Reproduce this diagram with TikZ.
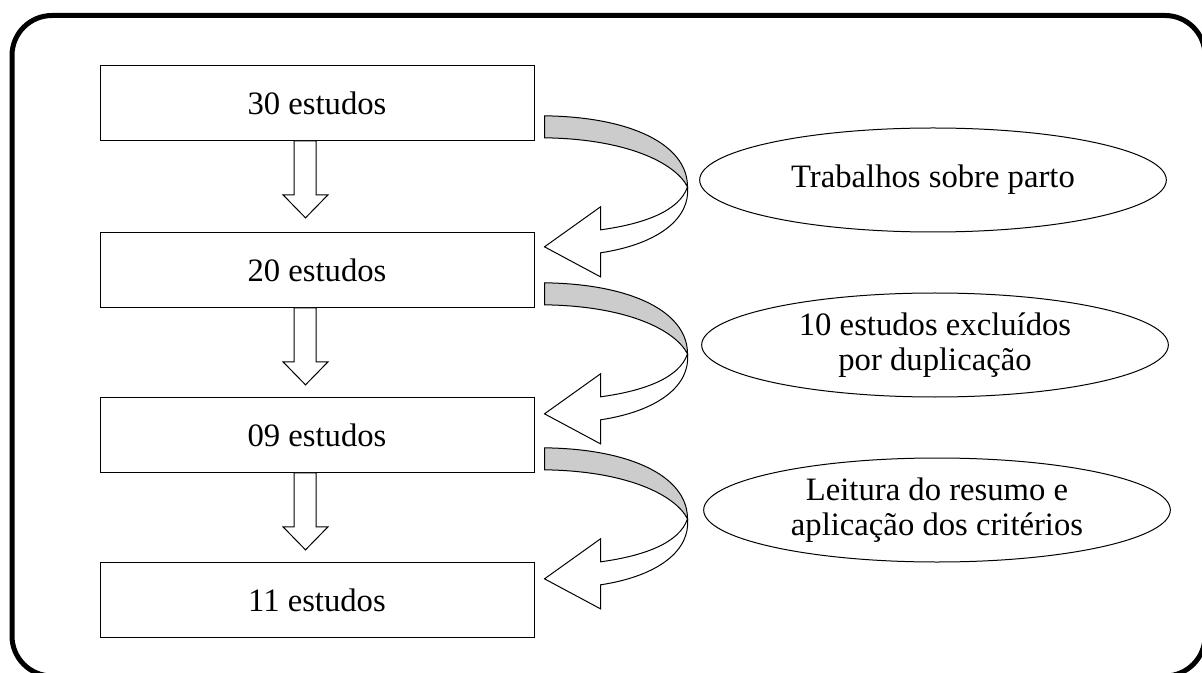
\documentclass[tikz,border=0pt]{standalone}
\usepackage{fontspec}
\setmainfont{Liberation Serif}
\usetikzlibrary{calc}
\usetikzlibrary{shapes.geometric}
\tikzset{every picture/.style={line width=0.75pt}}
\definecolor{bandgray}{RGB}{204,204,204}
\tikzset{
  stepbox/.style={draw, rectangle, minimum width=325.5pt, minimum height=56pt, inner sep=0.75pt},
  note/.style={draw, ellipse, minimum width=350pt, minimum height=78pt, inner sep=0.75pt, align=center},
}

\begin{document}
\begin{tikzpicture}[x=0.75pt,y=0.75pt,yscale=-1,xscale=1,font=\fontsize{24.5}{26}\selectfont]
\useasboundingbox (0,0) rectangle (1202,673);

%Shape: Rounded frame
\draw [line width=3.75pt, rounded corners=30pt] (12,15.5) rectangle (1205,676);

% Step boxes
\node [stepbox] (b1) at (317,103) {30 estudos};
\node [stepbox] (b2) at (317,270) {20 estudos};
\node [stepbox] (b3) at (317,435) {09 estudos};
\node [stepbox] (b4) at (317,600) {11 estudos};

% Ellipses
\node [note] (e1) at (933,180) {Trabalhos sobre parto};
\node [note] (e2) at (935,345) {10 estudos excluídos\\por duplicação};
\node [note] (e3) at (937,510) {Leitura do resumo e\\aplicação dos critérios};

%Shape: Down block arrows
\foreach \a in {b1,b2,b3} {
  \draw [fill=white] ($(\a.south)+(-23,0)$) -- ++(0,54) -- ++(-11,0) -- ++(22.5,23) -- ++(22.5,-23) -- ++(-12,0) -- ++(0,-54) -- cycle ;
}

%Shape: Curved left arrows
\foreach \a in {b1,b2,b3} {
  \begin{scope}[shift={($(\a.south east)+(10,-25)$)}]
    \draw [fill=bandgray] (0,0) .. controls (85,1) and (143,28) .. (143,71) .. controls (130,46) and (80,23) .. (0,22) -- cycle ;
    \draw [fill=white] (143,71) .. controls (135,95) and (100,108) .. (56,114) -- (56,91) -- (0,131) -- (56,161) -- (56,137) .. controls (115,128) and (146,102) .. (143,71) -- cycle ;
  \end{scope}
}

\end{tikzpicture}
\end{document}
